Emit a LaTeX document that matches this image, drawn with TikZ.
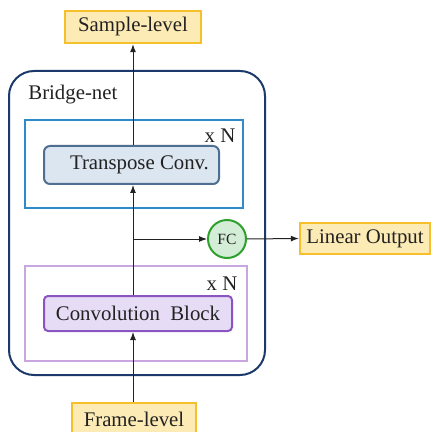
\documentclass[tikz,border=0pt]{standalone}
\usepackage{fontspec}
\setmainfont{Liberation Serif}
\usetikzlibrary{arrows.meta}
\definecolor{ybord}{HTML}{F5C02C}
\definecolor{yfill}{HTML}{FDEBB5}
\definecolor{navy}{HTML}{1B3A6B}
\definecolor{bluebox}{HTML}{2F8AC8}
\definecolor{tfill}{HTML}{DCE6F0}
\definecolor{tbord}{HTML}{4F6F90}
\definecolor{pbox}{HTML}{C9A6E0}
\definecolor{cfill}{HTML}{E6DCF5}
\definecolor{cbord}{HTML}{8A55C0}
\definecolor{gfill}{HTML}{D4EDD6}
\definecolor{gbord}{HTML}{2EA02E}
\definecolor{txt}{HTML}{222222}
\begin{document}
\begin{tikzpicture}[x=0.5pt,y=-0.5pt,
  every node/.style={font=\fontsize{10.4}{12}\selectfont, text=txt},
  iobox/.style={draw=ybord, fill=yfill, line width=1.2pt, inner sep=0pt},
  frameouter/.style={draw=navy, line width=1pt, rounded corners=12.5pt},
  arr/.style={draw=txt, line width=0.5pt, -{Latex[length=4pt,width=3pt]}}
]
\useasboundingbox (0,0) rectangle (431,432);
% containers
\node[frameouter, minimum width=128pt, minimum height=152pt, inner sep=0pt] (outer) at (137,223) {};
\node[anchor=west, inner sep=0pt] (bridge) at (28,95) {Bridge-net};
\node[draw=bluebox, line width=0.8pt, minimum width=109pt, minimum height=44pt, inner sep=0pt] (bluebx) at (134,164) {};
\node[draw=pbox, line width=0.8pt, minimum width=111pt, minimum height=47.5pt, inner sep=0pt] (purplebx) at (136,313.5) {};
\node[inner sep=0pt] (xn1) at (220,136) {x N};
\node[inner sep=0pt] (xn2) at (222,284) {x N};
% blocks
\node[draw=tbord, fill=tfill, line width=1pt, rounded corners=3pt, minimum width=87.5pt, minimum height=19pt, inner sep=0pt] (trans) at (131.5,165) {\hspace*{8pt}Transpose Conv.};
\node[draw=cbord, fill=cfill, line width=1pt, rounded corners=2pt, minimum width=94pt, minimum height=17.5pt, inner sep=0pt] (conv) at (138,313.5) {Convolution~ Block};
\node[circle, draw=gbord, fill=gfill, line width=1pt, minimum size=19pt, inner sep=0pt, font=\fontsize{7.8}{9}\selectfont] (fc) at (227,239) {FC};
% io
\node[iobox, minimum width=68pt, minimum height=16pt] (sample) at (133,27) {Sample-level};
\node[iobox, minimum width=65pt, minimum height=15.5pt] (linear) at (365,238.5) {Linear Output};
\node[iobox, minimum width=62pt, minimum height=16pt] (frame) at (134,419) {Frame-level};
% connectors
\coordinate (j) at (133,239);
\draw[arr] (j |- frame.north) -- (j |- conv.south);
\draw[arr] (j |- conv.north) -- (j |- trans.south);
\draw[arr] (j |- trans.north) -- (j |- sample.south);
\draw[arr] (j) -- (fc.west);
\draw[arr] (fc.east) -- (linear.west);
\end{tikzpicture}
\end{document}
